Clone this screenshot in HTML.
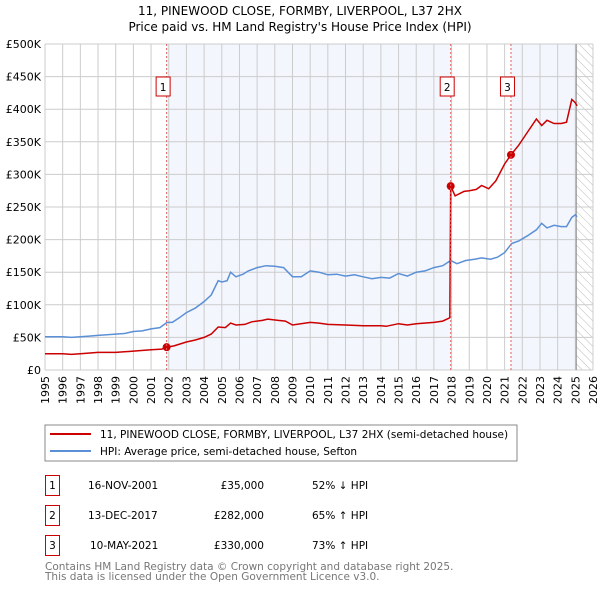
<!DOCTYPE html>
<html><head><meta charset="utf-8"><style>
body{margin:0;background:#fff;font-family:"DejaVu Sans","Liberation Sans",sans-serif;}
svg text{font-family:"DejaVu Sans","Liberation Sans",sans-serif;}
</style></head><body>
<svg id="c" width="600" height="590" viewBox="0 0 600 590" xmlns="http://www.w3.org/2000/svg">
<defs><pattern id="hatch" width="6" height="6" patternUnits="userSpaceOnUse" patternTransform="rotate(-45)"><line x1="0" y1="0" x2="0" y2="6" stroke="#bbb" stroke-width="1"/></pattern></defs>
<text x="300" y="15" text-anchor="middle" font-size="12" fill="#000">11, PINEWOOD CLOSE, FORMBY, LIVERPOOL, L37 2HX</text>
<text x="300" y="31" text-anchor="middle" font-size="12" fill="#000">Price paid vs. HM Land Registry's House Price Index (HPI)</text>
<g id="bg"></g><g id="grid"></g><g id="axes"></g><g id="series"></g><g id="marks"></g>
<rect x="45" y="425" width="472" height="36" fill="#fff" stroke="#888"/>
<line x1="50" y1="434" x2="91" y2="434" stroke="#cc0000" stroke-width="2"/>
<text x="100" y="438" font-size="10.5">11, PINEWOOD CLOSE, FORMBY, LIVERPOOL, L37 2HX (semi-detached house)</text>
<line x1="50" y1="451" x2="91" y2="451" stroke="#5b8fd6" stroke-width="2"/>
<text x="100" y="455" font-size="10.5">HPI: Average price, semi-detached house, Sefton</text>
<g font-size="10.5">
<rect x="45.5" y="475.5" width="14" height="20" fill="none" stroke="#cc0000"/><text x="52.5" y="489" text-anchor="middle">1</text>
<text x="88" y="489">16-NOV-2001</text><text x="264" y="489" text-anchor="end">£35,000</text><text x="312" y="489">52% ↓ HPI</text>
<rect x="45.5" y="505.5" width="14" height="20" fill="none" stroke="#cc0000"/><text x="52.5" y="519" text-anchor="middle">2</text>
<text x="88" y="519">13-DEC-2017</text><text x="264" y="519" text-anchor="end">£282,000</text><text x="312" y="519">65% ↑ HPI</text>
<rect x="45.5" y="535.5" width="14" height="20" fill="none" stroke="#cc0000"/><text x="52.5" y="549" text-anchor="middle">3</text>
<text x="90" y="549">10-MAY-2021</text><text x="264" y="549" text-anchor="end">£330,000</text><text x="312" y="549">73% ↑ HPI</text>
</g>
<text x="45" y="570" font-size="10.5" fill="#777">Contains HM Land Registry data © Crown copyright and database right 2025.</text>
<text x="45" y="580" font-size="10.5" fill="#777">This data is licensed under the Open Government Licence v3.0.</text>
</svg>
<script>
const yearTicks=[1995,1996,1997,1998,1999,2000,2001,2002,2003,2004,2005,2006,2007,2008,2009,2010,2011,2012,2013,2014,2015,2016,2017,2018,2019,2020,2021,2022,2023,2024,2025,2026];
const priceTicks=[0,50,100,150,200,250,300,350,400,450,500];
const priceLabels=["£0","£50K","£100K","£150K","£200K","£250K","£300K","£350K","£400K","£450K","£500K"];
const hpiT=[1995,1995.5,1996,1996.5,1997,1997.5,1998,1998.5,1999,1999.5,2000,2000.5,2001,2001.5,2001.9,2002.2,2002.6,2003,2003.5,2004,2004.4,2004.8,2005,2005.3,2005.5,2005.8,2006.2,2006.5,2007,2007.5,2008,2008.5,2009,2009.5,2010,2010.5,2011,2011.5,2012,2012.5,2013,2013.5,2014,2014.5,2015,2015.5,2016,2016.5,2017,2017.5,2017.95,2018.3,2018.8,2019.3,2019.7,2020.2,2020.6,2021,2021.4,2021.8,2022.3,2022.8,2023.1,2023.4,2023.8,2024.2,2024.5,2024.8,2025,2025.1];
const hpiV=[51,51,51,50,51,52,53,54,55,56,59,60,63,65,73,73,80,88,95,105,115,137,135,137,150,143,147,152,157,160,159,157,143,143,152,150,146,147,144,146,143,140,142,141,148,144,150,152,157,160,168,163,168,170,172,170,173,180,194,198,206,215,225,218,222,220,220,234,238,235];
const redT=[1995,1996,1996.5,1997,1998,1999,2000,2001,2001.6,2001.88,2002.3,2003,2003.5,2004,2004.4,2004.8,2005.2,2005.5,2005.8,2006.3,2006.7,2007.3,2007.6,2008.2,2008.6,2009,2010,2010.5,2011,2012,2013,2013.5,2014,2014.3,2015,2015.5,2016,2017,2017.5,2017.9,2017.95,2018.2,2018.7,2019,2019.4,2019.7,2020.1,2020.5,2021,2021.36,2021.8,2022.3,2022.8,2023.1,2023.4,2023.8,2024.2,2024.5,2024.8,2025,2025.1];
const redV=[25,25,24,25,27,27,29,31,32,35,37,43,46,50,55,66,65,72,69,70,74,76,78,76,75,69,73,72,70,69,68,68,68,67,71,69,71,73,75,80,282,267,274,275,277,283,278,290,316,330,345,365,385,375,383,378,378,380,415,410,405];
const saleT=[2001.88,2017.95,2021.36];
const saleV=[35,282,330];
const saleLabels=["1","2","3"];
const NS="http://www.w3.org/2000/svg";
const X0=45,X1=593,Y0=370,Y1=44;
const xs=t=>X0+(t-1995)/(2026-1995)*(X1-X0);
const ys=v=>Y0-v/500*(Y0-Y1);
function mk(tag,attrs,parent){const e=document.createElementNS(NS,tag);for(const k in attrs)e.setAttribute(k,attrs[k]);document.getElementById(parent).appendChild(e);return e;}
let r=mk('rect',{x:X0,y:Y1,width:X1-X0,height:Y0-Y1,fill:'#fff'},'bg');


r=mk('rect',{x:xs(saleT[0]),y:Y1,width:xs(saleT[1])-xs(saleT[0]),height:Y0-Y1,fill:'#f3f6fd'},'bg');


r=mk('rect',{x:xs(saleT[2]),y:Y1,width:xs(2025.05)-xs(saleT[2]),height:Y0-Y1,fill:'#f3f6fd'},'bg');


r=mk('rect',{x:xs(2025.05),y:Y1,width:X1-xs(2025.05),height:Y0-Y1,fill:'url(#hatch)'},'bg');


yearTicks.forEach(y=>{const l=mk('line',{x1:xs(y),x2:xs(y),y1:Y1,y2:Y0,stroke:'#ccc','stroke-width':1},'grid');


const t=mk('text',{x:0,y:0,'font-size':11,'text-anchor':'end',transform:`translate(${xs(y)+4},${Y0+6}) rotate(-90)`},'axes');t.textContent=y;

});
priceTicks.forEach((v,i)=>{const l=mk('line',{x1:X0,x2:X1,y1:ys(v),y2:ys(v),stroke:'#ccc','stroke-width':1},'grid');


const t=mk('text',{x:X0-4,y:ys(v)+4,'font-size':11,'text-anchor':'end'},'axes');t.textContent=priceLabels[i];

});
let vl=mk('line',{x1:xs(2025.05),x2:xs(2025.05),y1:Y1,y2:Y0,stroke:'#888','stroke-width':1},'grid');


saleT.forEach((t,i)=>{const l=mk('line',{x1:xs(t),x2:xs(t),y1:Y1,y2:Y0,stroke:'#e06060','stroke-width':1,'stroke-dasharray':'2,2'},'marks');


const b=mk('rect',{x:xs(t)-10.5,y:77,width:14,height:19,fill:'#fff',stroke:'#cc0000'},'marks');


const tx=mk('text',{x:xs(t)-3.5,y:91,'font-size':10.5,'text-anchor':'middle'},'marks');tx.textContent=saleLabels[i];

});
const pts=(T,V)=>T.map((t,i)=>xs(t).toFixed(1)+','+ys(V[i]).toFixed(1)).join(' ');
let p=mk('polyline',{points:pts(hpiT,hpiV),fill:'none',stroke:'#5b8fd6','stroke-width':1.5},'series');


p=mk('polyline',{points:pts(redT,redV),fill:'none',stroke:'#cc0000','stroke-width':1.5},'series');


saleT.forEach((t,i)=>{const c=mk('circle',{cx:xs(t),cy:ys(saleV[i]),r:4,fill:'#cc0000'},'series');

});
</script>
</body></html>
